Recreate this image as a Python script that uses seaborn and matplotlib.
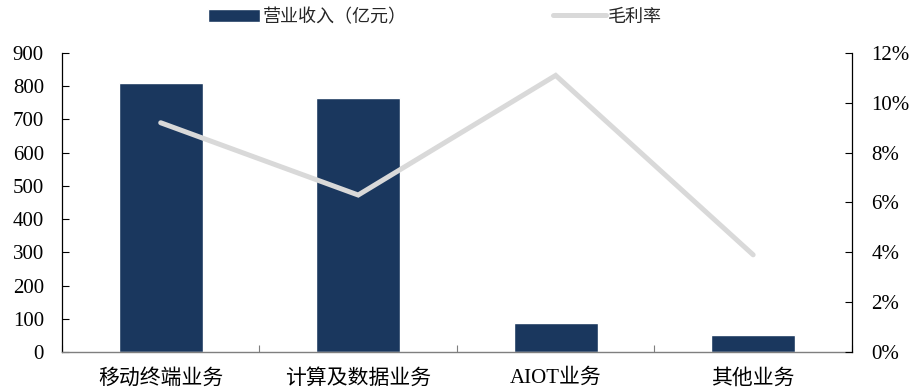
import numpy as np
import matplotlib
matplotlib.use("Agg")
import matplotlib.pyplot as plt
import seaborn as sns
from matplotlib.ticker import FuncFormatter, MultipleLocator

categories = ["移动终端业务", "计算及数据业务", "AIOT业务", "其他业务"]
revenue = [810, 765, 87, 51]          # 营业收入（亿元）
gross_margin = [9.2, 6.3, 11.1, 3.9]  # 毛利率（%）

sns.set_theme(style="white")
plt.rcParams["font.family"] = ["Liberation Serif", "Noto Sans CJK SC", "DejaVu Sans"]
plt.rcParams["axes.unicode_minus"] = False

bar_color = "#1a375e"
line_color = "#d9d9d9"

fig = plt.figure(figsize=(9.18, 3.91), dpi=100)
ax = fig.add_axes([0.0675, 0.0997, 0.8605, 0.7648])

sns.barplot(x=categories, y=revenue, color=bar_color, width=0.425,
            saturation=1, ax=ax, label="营业收入（亿元）")
ax.set_xlim(-0.5, len(categories) - 0.5)
ax.set_ylim(0, 900)
ax.yaxis.set_major_locator(MultipleLocator(100))
ax.set_xlabel("")
ax.set_ylabel("")

ax2 = ax.twinx()
sns.lineplot(x=np.arange(len(categories)), y=gross_margin, ax=ax2,
             color=line_color, linewidth=3.6, label="毛利率", legend=False)
for ln in ax2.lines:
    ln.set_solid_capstyle("round")
    ln.set_solid_joinstyle("miter")
ax2.set_ylim(0, 12)
ax2.yaxis.set_major_locator(MultipleLocator(2))
ax2.yaxis.set_major_formatter(FuncFormatter(lambda v, _: f"{v:.0f}%"))
ax2.set_xlim(-0.5, len(categories) - 0.5)

# spines
for a in (ax, ax2):
    a.spines["top"].set_visible(False)
    a.grid(False)
ax.spines["right"].set_visible(False)
ax.spines["left"].set_color("#000000")
ax.spines["left"].set_linewidth(0.9)
ax.spines["bottom"].set_color("#7f7f7f")
ax.spines["bottom"].set_linewidth(1.0)
ax2.spines["left"].set_visible(False)
ax2.spines["bottom"].set_visible(False)
ax2.spines["right"].set_color("#000000")
ax2.spines["right"].set_linewidth(0.9)

# ticks
ax.tick_params(axis="y", direction="in", length=5, width=0.8, color="#000000",
               labelsize=15, pad=13, labelcolor="#000000", left=True)
ax2.tick_params(axis="y", direction="in", length=5, width=0.8, color="#000000",
                labelsize=15, pad=14, labelcolor="#000000", right=True)
ax.set_xticks(np.arange(len(categories)))
ax.set_xticklabels(categories)
ax.tick_params(axis="x", which="major", length=0, labelsize=15, pad=12,
               labelcolor="#000000")
ax.set_xticks(np.arange(len(categories) + 1) - 0.5, minor=True)
ax.tick_params(axis="x", which="minor", direction="in", length=5, width=0.8,
               color="#7f7f7f", bottom=True)
ax2.tick_params(axis="x", which="both", length=0, labelbottom=False)

if ax.legend_:
    ax.legend_.remove()
h1, l1 = ax.get_legend_handles_labels()
h2, l2 = ax2.get_legend_handles_labels()
fig.legend(h1 + h2, l1 + l2, loc="upper center", bbox_to_anchor=(0.474, 1.02),
           ncol=2, frameon=False, fontsize=13, handlelength=2.9,
           handleheight=0.75, handletextpad=0.15, columnspacing=8.1)

fig.savefig("out.png", dpi=100)
